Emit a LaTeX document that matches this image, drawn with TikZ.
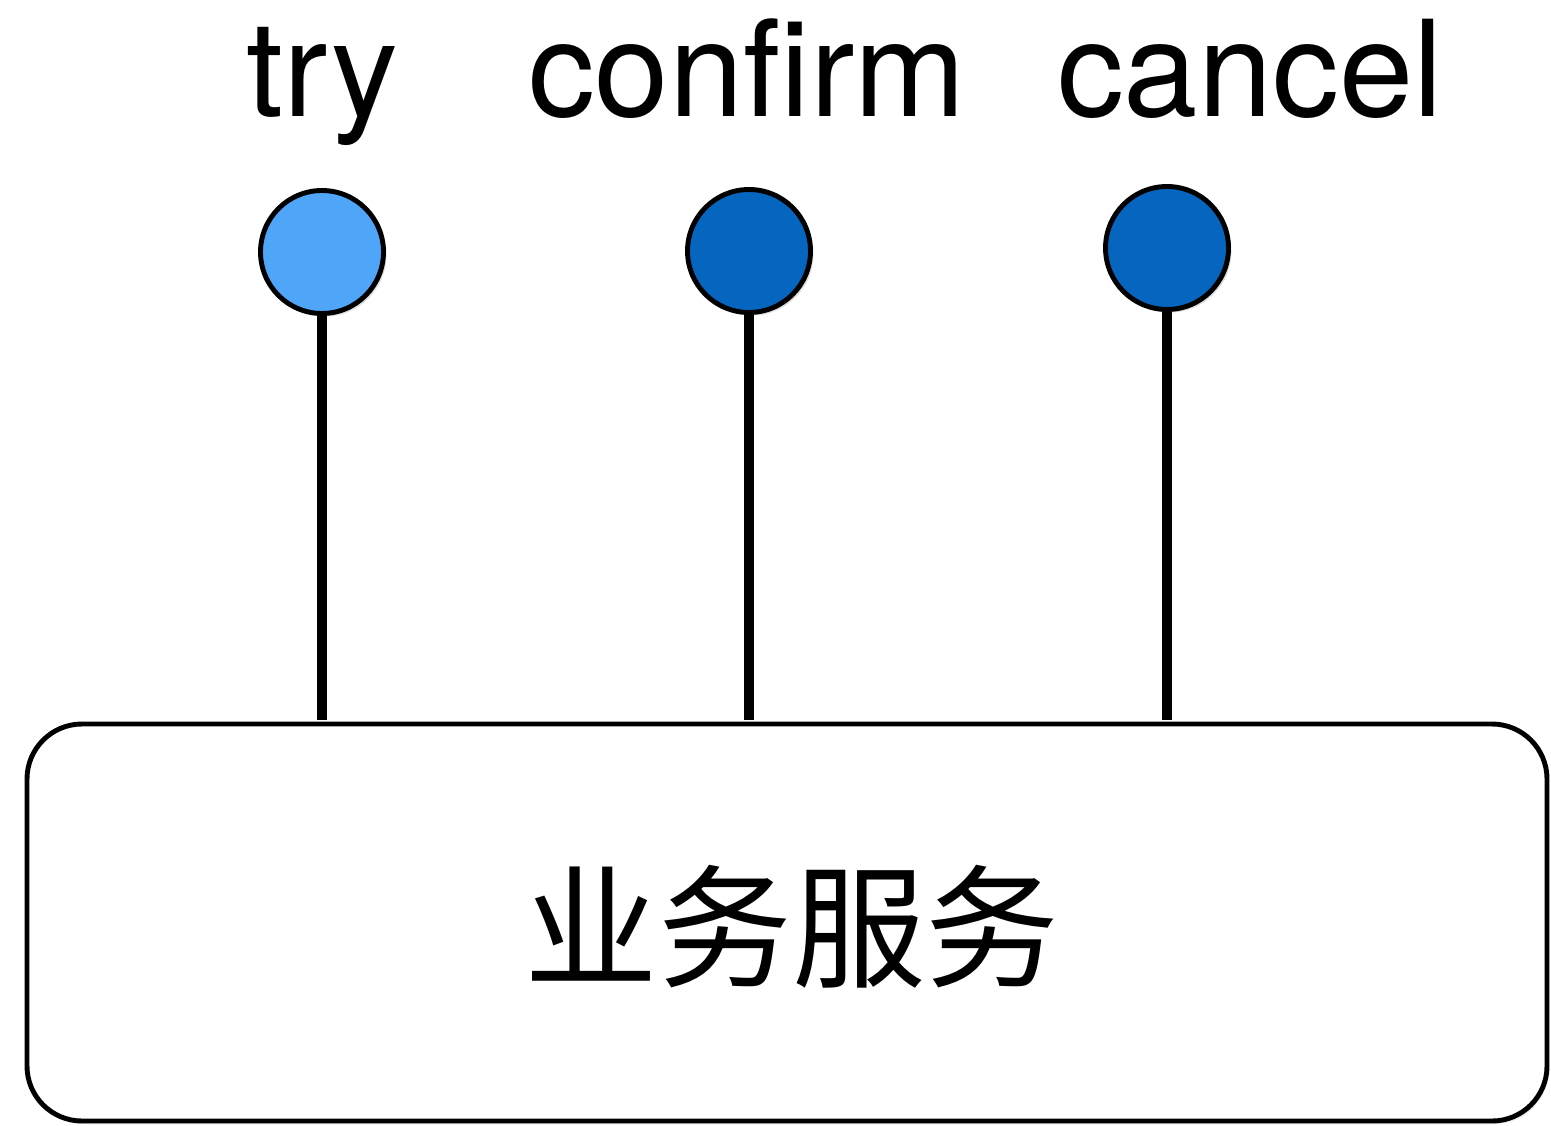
\documentclass[tikz,border=0pt]{standalone}
\usepackage{fontspec}
\setmainfont{TeX Gyre Heros}
\newfontfamily\cjk{Noto Sans CJK SC}
\usetikzlibrary{shadows}
\definecolor{lightblue}{HTML}{4FA6F8}
\definecolor{darkblue}{HTML}{0565BF}
\tikzset{
  port/.style={circle,draw=black,line width=1.4pt,minimum size=1.23cm,inner sep=0pt,
    drop shadow={opacity=0.25,shadow xshift=0.03,shadow yshift=-0.03}},
  stick/.style={line width=2.85pt},
  lbl/.style={anchor=base,font=\fontsize{38}{40}\selectfont}
}
\begin{document}
\begin{tikzpicture}
\useasboundingbox (0,0) rectangle (15.51,11.25);

\node[draw,line width=1.4pt,rounded corners=0.55cm,minimum width=15.2cm,minimum height=3.97cm,
  drop shadow={opacity=0.2,shadow xshift=0.02,shadow yshift=-0.03},fill=white] (svc) at (7.87,2.025) {};
\node[font=\cjk\fontsize{38}{40}\selectfont] (svclbl) at (7.92,1.98) {业务服务};

\node[port,fill=lightblue] (try) at (3.22,8.73) {};
\node[port,fill=darkblue] (confirm) at (7.49,8.74) {};
\node[port,fill=darkblue] (cancel) at (11.67,8.77) {};

\coordinate (tryend) at (3.22,4.05);
\coordinate (confirmend) at (7.49,4.05);
\coordinate (cancelend) at (11.67,4.05);
\draw[stick] (try.south) -- (tryend);
\draw[stick] (confirm.south) -- (confirmend);
\draw[stick] (cancel.south) -- (cancelend);

\node[lbl] (trylbl) at (3.22,10.08) {try};
\node[lbl] (confirmlbl) at (7.47,10.08) {confirm};
\node[lbl] (cancellbl) at (12.50,10.08) {cancel};
\end{tikzpicture}
\end{document}
